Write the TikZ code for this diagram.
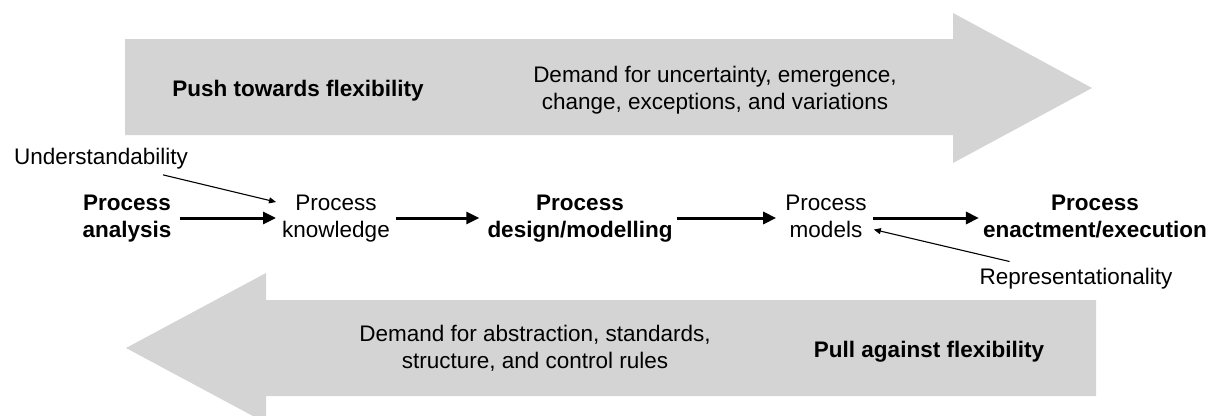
\documentclass[tikz,border=0pt]{standalone}
\usepackage{fontspec}
\setmainfont{Liberation Sans}
\usetikzlibrary{arrows.meta,calc}
\definecolor{bandgray}{RGB}{212,212,212}
\begin{document}
\begin{tikzpicture}[x=1pt,y=-1pt,
  txt/.style={font=\fontsize{22.5}{27}\selectfont, align=center, inner sep=0pt},
  btxt/.style={txt, font=\fontsize{22.5}{27}\selectfont\bfseries},
  flow/.style={-{Triangle[length=13pt,width=12pt]}, line width=3pt},
  thinarrow/.style={-{Triangle[length=7pt,width=6pt]}, line width=1.1pt},
  band/.style={fill=bandgray, draw=none}]
\useasboundingbox (0,0) rectangle (1220,415);
\clip (0,0) rectangle (1220,415);
% bands
\fill[band] (125,39) -- (953,39) -- (953,13) -- (1092,88) -- (953,163) -- (953,135) -- (125,135) -- cycle;
\fill[band] (1096,300) -- (266,300) -- (266,273) -- (126,348) -- (266,423) -- (266,396) -- (1096,396) -- cycle;
% band texts
\node[btxt, anchor=base] (push) at (298,96) {Push towards flexibility};
\node[txt, anchor=north] (unc) at (715,66) {Demand for uncertainty, emergence,\\change, exceptions, and variations};
\node[txt, anchor=north] (abs) at (535,325) {Demand for abstraction, standards,\\structure, and control rules};
\node[btxt, anchor=base] (pull) at (929,357) {Pull against flexibility};
% side labels
\node[txt, anchor=base] (und) at (101,164) {Understandability};
\node[txt, anchor=base] (rep) at (1076,284) {Representationality};
% process row
\node[btxt, anchor=north] (pa) at (127,195) {Process\\analysis};
\node[txt, anchor=north] (pk) at (336,195) {Process\\knowledge};
\node[btxt, anchor=north] (pd) at (580,195) {Process\\design/modelling};
\node[txt, anchor=north] (pm) at (826,195) {Process\\models};
\node[btxt, anchor=north] (pe) at (1095,195) {Process\\enactment/execution};
\coordinate (row) at (0,218);
\draw[flow] ($(pa.east|-row)+(8,0)$) -- ($(pk.west|-row)+(-6,0)$);
\draw[flow] ($(pk.east|-row)+(6,0)$) -- ($(pd.west|-row)+(-8,0)$);
\draw[flow] ($(pd.east|-row)+(4,0)$) -- ($(pm.west|-row)+(-9,0)$);
\draw[flow] ($(pm.east|-row)+(6,0)$) -- ($(pe.west|-row)+(-4,0)$);
% quality arrows
\draw[thinarrow] ($(und.south)+(62,6)$) -- ($(pk.north west)+(-6,7)$);
\draw[thinarrow] ($(rep.north west)+(30,-6)$) -- ($(pm.east)+(7,13)$);
\end{tikzpicture}
\end{document}
